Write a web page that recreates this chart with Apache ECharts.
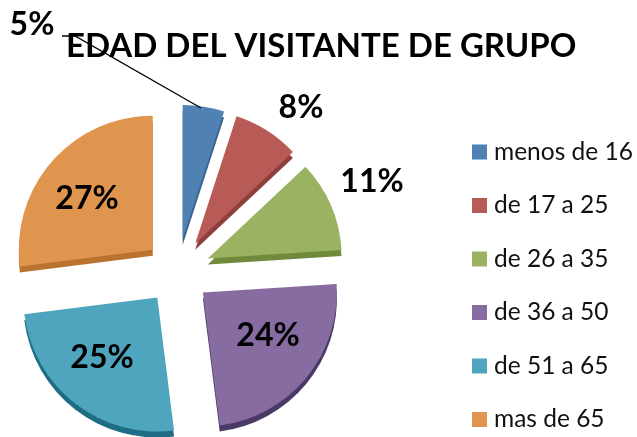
<!DOCTYPE html>
<html>
<head>
<meta charset="utf-8">
<style>
html, body { margin: 0; padding: 0; background: #fff; }
#main { width: 637px; height: 437px; }
</style>
<script src="https://cdn.jsdelivr.net/npm/echarts@6/dist/echarts.min.js"></script>
</head>
<body>
<div id="main"></div>
<script>
const categories = ['menos de 16', 'de 17 a 25', 'de 26 a 35', 'de 36 a 50', 'de 51 a 65', 'mas de 65'];
const percents = [5, 8, 11, 24, 25, 27];
const topColors = ['#4f81b3', '#b85a55', '#9bb262', '#866ca0', '#4ea5bd', '#e0954f'];
const sideColors = ['#3a648e', '#8e3f3c', '#6f8a3c', '#4b3a68', '#1f6d84', '#b9732f'];
// label centres
const labelSpots = [[32, 25], [301, 108], [372, 182], [268, 336], [102, 358], [87, 199]];
const leaderPoints = [[201, 108], [75, 36], [62, 36]];

const font = 'Lato, "Open Sans", sans-serif';
const pieCenterX = 177.5;
const pieCenterY = 271.5;
const pieRadius = 134;
const explode = 33;

function sliceData(colors) {
    return percents.map((v, i) => ({
        value: v,
        name: categories[i],
        selected: true,
        itemStyle: { color: colors[i] }
    }));
}

const chart = echarts.init(document.getElementById('main'), null, { renderer: 'canvas' });
chart.setOption({
    animation: false,
    backgroundColor: '#fff',
    title: {
        text: 'EDAD DEL VISITANTE DE GRUPO',
        left: 66,
        top: 30,
        padding: 0,
        textStyle: { fontFamily: font, fontSize: 33, fontWeight: 'bold', color: '#000' }
    },
    legend: {
        orient: 'vertical',
        left: 472,
        top: 136,
        padding: 0,
        icon: 'rect',
        itemWidth: 15,
        itemHeight: 15,
        itemGap: 21.5,
        selectedMode: false,
        data: categories,
        textStyle: { fontFamily: font, fontSize: 24.5, color: '#111', lineHeight: 28, padding: [4, 0, 0, 2] }
    },
    series: [
        {
            // darker copy underneath, gives the 3D edge
            type: 'pie',
            silent: true,
            z: 1,
            center: [pieCenterX, pieCenterY + 6],
            radius: [0, pieRadius],
            startAngle: 90,
            selectedMode: 'multiple',
            selectedOffset: explode,
            label: { show: false },
            labelLine: { show: false },
            data: sliceData(sideColors).map(d => ({ ...d, name: d.name + ' ' }))
        },
        {
            type: 'pie',
            silent: true,
            z: 2,
            center: [pieCenterX, pieCenterY],
            radius: [0, pieRadius],
            startAngle: 90,
            selectedMode: 'multiple',
            selectedOffset: explode,
            label: { show: false },
            labelLine: { show: false },
            data: sliceData(topColors)
        },
        {
            // invisible pie, only carries the labels (selected state would reset their place)
            type: 'pie',
            silent: true,
            z: 3,
            center: [pieCenterX, pieCenterY],
            radius: [0, pieRadius + explode],
            startAngle: 90,
            avoidLabelOverlap: false,
            itemStyle: { color: 'transparent' },
            data: percents.map((v, i) => ({
                value: v,
                name: categories[i],
                labelLine: { show: i === 0 }
            })),
            label: {
                show: true,
                overflow: 'none',
                formatter: '{c}%',
                fontFamily: font,
                fontSize: 32,
                fontWeight: 'bold',
                color: '#000'
            },
            labelLine: { show: true, lineStyle: { color: '#000', width: 1.3 } },
            labelLayout: params => ({
                x: labelSpots[params.dataIndex][0],
                y: labelSpots[params.dataIndex][1],
                align: 'center',
                verticalAlign: 'middle',
                labelLinePoints: params.dataIndex === 0 ? leaderPoints : undefined
            })
        }
    ]
});
</script>
</body>
</html>
